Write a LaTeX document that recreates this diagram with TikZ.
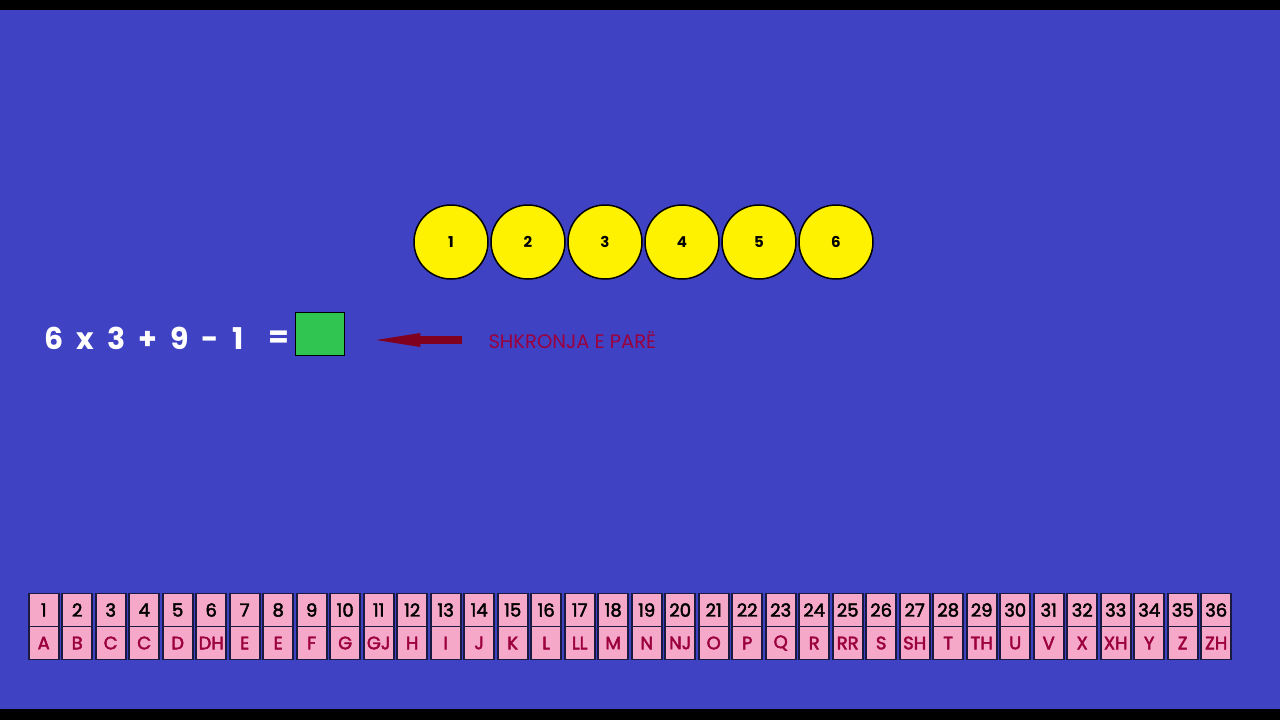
\documentclass[tikz,border=0pt]{standalone}
\usepackage{fontspec}
\setmainfont{Poppins}
\newfontfamily\medfont[FakeBold=2.5]{Poppins}
\usetikzlibrary{arrows.meta,positioning}
\definecolor{bgblue}{RGB}{64,66,196}
\definecolor{cellpink}{RGB}{245,168,200}
\definecolor{letterred}{RGB}{155,0,60}
\definecolor{arrowred}{RGB}{128,0,32}
\definecolor{boxgreen}{RGB}{48,196,80}
\definecolor{lineblue}{RGB}{26,26,64}
\newcommand{\sumgap}{\hspace{13pt}}

\begin{document}
\begin{tikzpicture}[x=1pt,y=-1pt,node distance=1.5pt,>=Stealth,
    ball/.style={circle,draw=black,line width=1.5pt,fill=yellow,minimum size=74pt,inner sep=0pt,font=\fontsize{15}{15}\selectfont\bfseries},
    cell/.style={draw=lineblue,line width=1.6pt,fill=cellpink,minimum width=30pt,minimum height=33pt,inner sep=0pt,font=\fontsize{18}{18}\medfont}]
    \useasboundingbox (0,0) rectangle (1280,720);
    \fill[black] (0,0) rectangle (1280,720);
    \fill[bgblue] (0,10) rectangle (1280,709);
    % Balls
    \node[ball] (b1) at (451,242) {1};
    \node[ball,right=of b1] (b2) {2};
    \node[ball,right=of b2] (b3) {3};
    \node[ball,right=of b3] (b4) {4};
    \node[ball,right=of b4] (b5) {5};
    \node[ball,right=of b5] (b6) {6};
    % Sum and answer box
    \node[draw=black,line width=1.5pt,fill=boxgreen,minimum width=49pt,minimum height=43pt] (box) at (320,334) {};
    \node[left=2pt of box,yshift=-5pt,text=white,font=\fontsize{30}{30}\selectfont\bfseries] (eq) {=};
    \node[anchor=base,text=white,font=\fontsize{30}{30}\selectfont\bfseries] (sum) at (144,349) {6\sumgap x\sumgap 3\sumgap +\sumgap 9\sumgap -\sumgap 1};
    \node[anchor=west,text=letterred,font=\fontsize{19.5}{19.5}\selectfont] (lbl) at (485,340) {SHKRONJA E PARË};
    \draw[arrowred,line width=8pt,-{Triangle[length=44pt,width=14pt,line width=0pt]},shorten <=23pt,shorten >=31pt] (lbl.west) -- (lbl.west -| box.east);
    % Alphabet table
    \foreach \l [count=\i] in {A,B,C,C,D,DH,E,E,F,G,GJ,H,I,J,K,L,LL,M,N,NJ,O,P,Q,R,RR,S,SH,T,TH,U,V,X,XH,Y,Z,ZH} {
      \node[cell] (n\i) at ({43.7+(\i-1)*33.5},610) {\i};
      \node[cell,below=-1.6pt of n\i,text=letterred] (l\i) {\l};
    }
\end{tikzpicture}
\end{document}
